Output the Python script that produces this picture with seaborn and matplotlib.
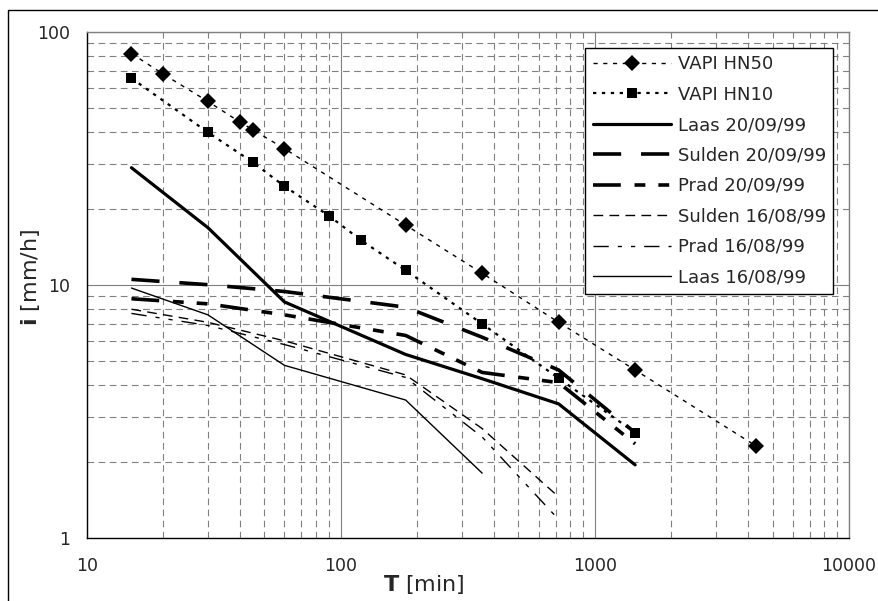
import matplotlib
matplotlib.use("Agg")
import matplotlib.pyplot as plt
import matplotlib.ticker as mticker
from matplotlib.lines import Line2D
import seaborn as sns
import pandas as pd
import numpy as np

# ---------------- data ----------------
T_HN50 = [15, 20, 30, 40, 45, 60, 180, 360, 720, 1440, 4320]
I_HN50 = [82, 68, 53, 44, 41, 34.5, 17.2, 11.1, 7.1, 4.6, 2.3]

T_HN10 = [15, 30, 45, 60, 90, 120, 180, 360, 720, 1440]
I_HN10 = [65.5, 40, 30.5, 24.5, 18.7, 15.0, 11.4, 7.0, 4.27, 2.6]

T_obs7 = [15, 30, 60, 180, 360, 720, 1440]
I_laas_2009 = [29, 16.8, 8.55, 5.3, 4.25, 3.38, 1.94]
I_sulden_2009 = [10.5, 10.0, 9.4, 8.15, 6.2, 4.6, 2.6]
I_prad_2009 = [8.8, 8.4, 7.6, 6.3, 4.5, 4.1, 2.35]

T_obs6 = [15, 30, 60, 180, 360, 720]
I_sulden_1608 = [8.0, 7.1, 6.0, 4.4, 2.7, 1.45]
I_prad_1608 = [7.7, 6.9, 5.8, 4.3, 2.5, 1.18]

T_obs5 = [15, 30, 60, 180, 360]
I_laas_1608 = [9.7, 7.6, 4.8, 3.5, 1.8]

labels = ["VAPI HN50", "VAPI HN10", "Laas 20/09/99", "Sulden 20/09/99",
          "Prad 20/09/99", "Sulden 16/08/99", "Prad 16/08/99", "Laas 16/08/99"]

# ---------------- style ----------------
sns.set_theme(style="white")
plt.rcParams["font.family"] = ["DejaVu Sans"]
plt.rcParams["mathtext.fontset"] = "dejavusans"
plt.rcParams["axes.unicode_minus"] = False

fig = plt.figure(figsize=(8.79, 6.01), dpi=100)
L, R, B, T = 86.7 / 879, 849 / 879, 1 - 537.7 / 601, 1 - 31.7 / 601
ax = fig.add_axes([L, B, R - L, T - B])

series = [
    (T_HN50, I_HN50, dict(linewidth=1.0, linestyle=(0, (3, 4)), marker="D",
                          markersize=8.3, markeredgewidth=0)),
    (T_HN10, I_HN10, dict(linewidth=1.6, linestyle=(0, (1.5, 2.5)), marker="s",
                          markersize=7.5, markeredgewidth=0)),
    (T_obs7, I_laas_2009, dict(linewidth=2.3, linestyle="-")),
    (T_obs7, I_sulden_2009, dict(linewidth=2.6, linestyle=(0, (7.8, 5.5)))),
    (T_obs7, I_prad_2009, dict(linewidth=2.6, linestyle=(0, (7.7, 3.8, 3, 3.6, 3, 3.6)))),
    (T_obs6, I_sulden_1608, dict(linewidth=1.0, linestyle=(0, (7, 4.5)))),
    (T_obs6, I_prad_1608, dict(linewidth=1.0, linestyle=(0, (11, 6.5, 3, 6.5, 3, 6.5)))),
    (T_obs5, I_laas_1608, dict(linewidth=1.0, linestyle="-")),
]

handles = []
for (xs, ys, kw), lab in zip(series, labels):
    df = pd.DataFrame({"T": xs, "i": ys})
    sns.lineplot(data=df, x="T", y="i", ax=ax, color="black", errorbar=None,
                 legend=False, **kw)
    handles.append(Line2D([], [], color="black", **kw))

ax.set_xscale("log")
ax.set_yscale("log")
ax.set_xlim(10, 10000)
ax.set_ylim(1, 100)

# grid
ax.xaxis.set_minor_locator(mticker.LogLocator(base=10, subs=np.arange(2, 10)))
ax.yaxis.set_minor_locator(mticker.LogLocator(base=10, subs=np.arange(2, 10)))
ax.xaxis.set_minor_formatter(mticker.NullFormatter())
ax.yaxis.set_minor_formatter(mticker.NullFormatter())
ax.grid(which="major", color="#808080", linewidth=0.8, linestyle="-")
ax.grid(which="minor", color="#808080", linewidth=0.8, linestyle=(0, (6, 4)))
ax.set_axisbelow(True)

ax.xaxis.set_major_formatter(mticker.FuncFormatter(lambda v, p: f"{v:g}"))
ax.yaxis.set_major_formatter(mticker.FuncFormatter(lambda v, p: f"{v:g}"))
ax.tick_params(axis="both", which="major", direction="out", length=4,
               width=0.8, color="black", labelsize=12.5, pad=8)
ax.tick_params(axis="both", which="minor", length=0)
ax.xaxis.set_tick_params(pad=10)

for s in ["left", "bottom"]:
    ax.spines[s].set_color("black")
    ax.spines[s].set_linewidth(1.0)
for s in ["top", "right"]:
    ax.spines[s].set_color("#808080")
    ax.spines[s].set_linewidth(1.0)

ax.set_xlabel(r"$\mathbf{T}$ [min]", fontsize=16)
ax.set_ylabel(r"$\mathbf{i}$ [mm/h]", fontsize=16)
ax.xaxis.set_label_coords((424 - 86.7) / 762.3, (537.7 - 584) / 506)
ax.xaxis.label.set_va("center")
ax.yaxis.set_label_coords((31 - 86.7) / 762.3, (537.7 - 277) / 506)
ax.yaxis.label.set_va("center")

leg = ax.legend(handles, labels, loc="upper right", bbox_to_anchor=(0.979, 0.968),
                borderaxespad=0, frameon=True, fancybox=False, shadow=False,
                fontsize=13, handlelength=4.35, handletextpad=0.35,
                labelspacing=0.69, borderpad=0.4)
leg.get_frame().set_edgecolor("black")
leg.get_frame().set_linewidth(1.0)
leg.get_frame().set_facecolor("white")
leg.get_frame().set_alpha(1)

# outer chart border
fig.add_artist(plt.Rectangle((8 / 879, -0.01), 1.0, 1 - 10 / 601 + 0.01,
                             transform=fig.transFigure, fill=False,
                             edgecolor="black", linewidth=1.0))

fig.savefig("out.png", dpi=100)
